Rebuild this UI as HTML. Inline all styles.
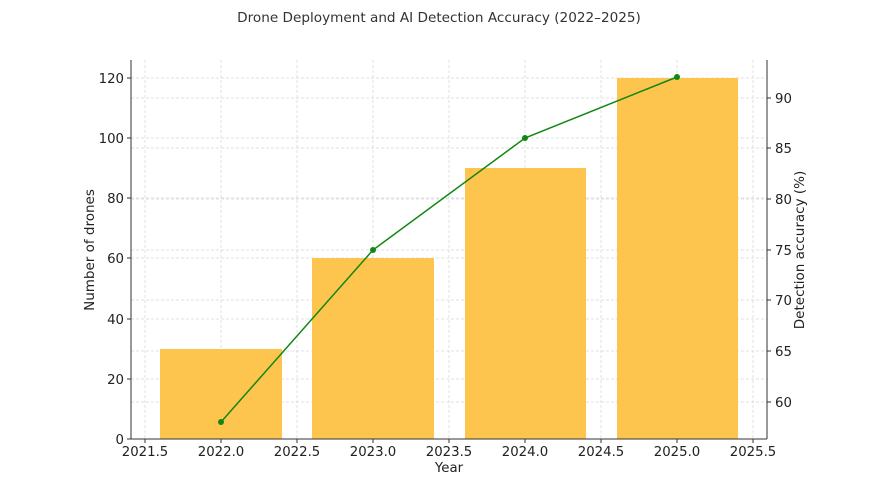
<!DOCTYPE html>
<html><head><style>body{margin:0;background:#fff}svg{display:block;font-family:"DejaVu Sans","Liberation Sans",sans-serif}</style></head><body>
<svg width="885" height="493" viewBox="0 0 885 493" xmlns="http://www.w3.org/2000/svg">
<rect width="885" height="493" fill="#fff"/>
<text x="439" y="22" font-size="13.6" text-anchor="middle" fill="#333">Drone Deployment and AI Detection Accuracy (2022–2025)</text>
<g stroke="#d6d6d6" stroke-width="0.7" stroke-dasharray="3,2">
<line x1="145" y1="60" x2="145" y2="439"/><line x1="221" y1="60" x2="221" y2="439"/><line x1="297" y1="60" x2="297" y2="439"/><line x1="373" y1="60" x2="373" y2="439"/><line x1="449" y1="60" x2="449" y2="439"/><line x1="525" y1="60" x2="525" y2="439"/><line x1="601" y1="60" x2="601" y2="439"/><line x1="677" y1="60" x2="677" y2="439"/><line x1="753" y1="60" x2="753" y2="439"/>
<line x1="131" y1="379" x2="767" y2="379"/><line x1="131" y1="319" x2="767" y2="319"/><line x1="131" y1="258" x2="767" y2="258"/><line x1="131" y1="198" x2="767" y2="198"/><line x1="131" y1="138" x2="767" y2="138"/><line x1="131" y1="78" x2="767" y2="78"/>
<line x1="131" y1="402" x2="767" y2="402"/><line x1="131" y1="351" x2="767" y2="351"/><line x1="131" y1="300" x2="767" y2="300"/><line x1="131" y1="250" x2="767" y2="250"/><line x1="131" y1="199" x2="767" y2="199"/><line x1="131" y1="148" x2="767" y2="148"/><line x1="131" y1="98" x2="767" y2="98"/>
</g>
<g fill="#fdc54e">
<rect x="160" y="349" width="122" height="90"/><rect x="312" y="258" width="122" height="181"/><rect x="465" y="168" width="121" height="271"/><rect x="617" y="78" width="121" height="361"/>
</g>
<polyline points="221,422 373,250 525,138 677,77" fill="none" stroke="#118811" stroke-width="1.5"/>
<g fill="#118811"><circle cx="221" cy="422" r="3"/><circle cx="373" cy="250" r="3"/><circle cx="525" cy="138" r="3"/><circle cx="677" cy="77" r="3"/></g>
<g stroke="#333" stroke-width="1" fill="none">
<line x1="131" y1="60" x2="131" y2="439"/><line x1="767" y1="60" x2="767" y2="439"/><line x1="131" y1="439" x2="767" y2="439"/>
</g>
<g stroke="#333" stroke-width="1">
<line x1="145" y1="439" x2="145" y2="443"/><line x1="221" y1="439" x2="221" y2="443"/><line x1="297" y1="439" x2="297" y2="443"/><line x1="373" y1="439" x2="373" y2="443"/><line x1="449" y1="439" x2="449" y2="443"/><line x1="525" y1="439" x2="525" y2="443"/><line x1="601" y1="439" x2="601" y2="443"/><line x1="677" y1="439" x2="677" y2="443"/><line x1="753" y1="439" x2="753" y2="443"/>
<line x1="127" y1="439" x2="131" y2="439"/><line x1="127" y1="379" x2="131" y2="379"/><line x1="127" y1="319" x2="131" y2="319"/><line x1="127" y1="258" x2="131" y2="258"/><line x1="127" y1="198" x2="131" y2="198"/><line x1="127" y1="138" x2="131" y2="138"/><line x1="127" y1="78" x2="131" y2="78"/>
<line x1="767" y1="402" x2="771" y2="402"/><line x1="767" y1="351" x2="771" y2="351"/><line x1="767" y1="300" x2="771" y2="300"/><line x1="767" y1="250" x2="771" y2="250"/><line x1="767" y1="199" x2="771" y2="199"/><line x1="767" y1="148" x2="771" y2="148"/><line x1="767" y1="98" x2="771" y2="98"/>
</g>
<g font-size="13.3" fill="#222" text-anchor="middle">
<text x="145" y="456">2021.5</text><text x="221" y="456">2022.0</text><text x="297" y="456">2022.5</text><text x="373" y="456">2023.0</text><text x="449" y="456">2023.5</text><text x="525" y="456">2024.0</text><text x="601" y="456">2024.5</text><text x="677" y="456">2025.0</text><text x="753" y="456">2025.5</text>
<text x="449" y="472">Year</text>
</g>
<g font-size="13.3" fill="#222" text-anchor="end">
<text x="124" y="444">0</text><text x="124" y="384">20</text><text x="124" y="324">40</text><text x="124" y="263">60</text><text x="124" y="203">80</text><text x="124" y="143">100</text><text x="124" y="83">120</text>
</g>
<g font-size="13.3" fill="#222">
<text x="775" y="407">60</text><text x="775" y="356">65</text><text x="775" y="305">70</text><text x="775" y="255">75</text><text x="775" y="204">80</text><text x="775" y="153">85</text><text x="775" y="103">90</text>
</g>
<text transform="translate(94,250) rotate(-90)" font-size="13.5" fill="#222" text-anchor="middle">Number of drones</text>
<text transform="translate(804,250) rotate(-90)" font-size="13.5" fill="#222" text-anchor="middle">Detection accuracy (%)</text>
</svg>
</body></html>
